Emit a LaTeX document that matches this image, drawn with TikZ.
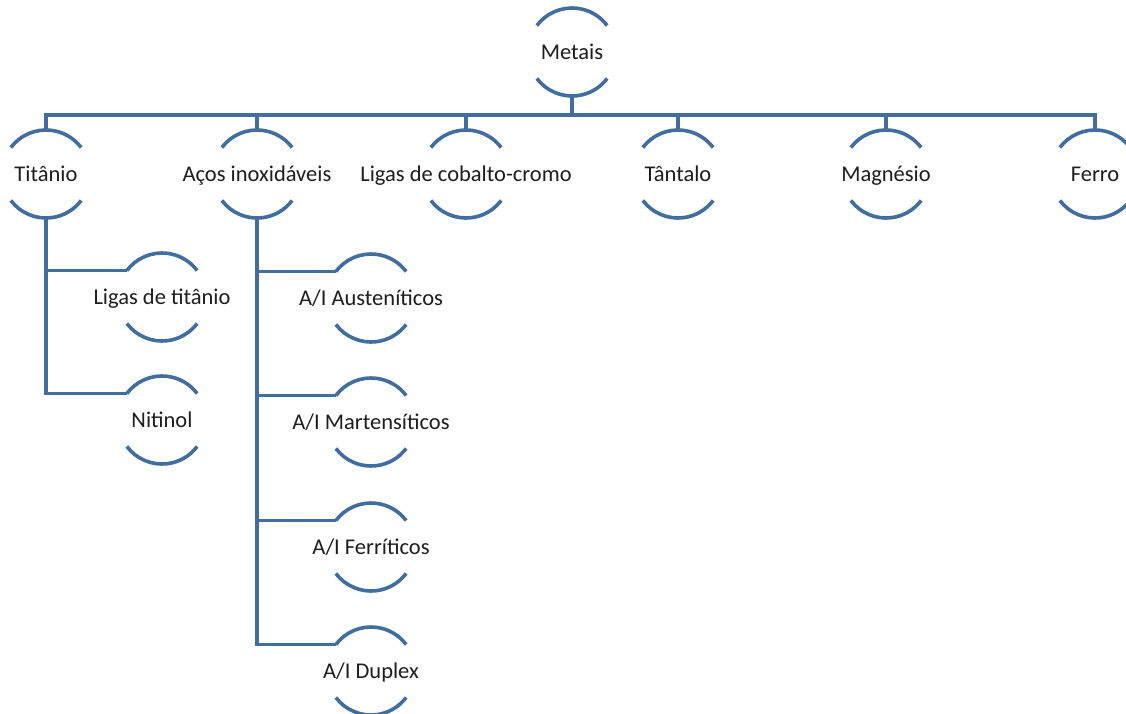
\documentclass[tikz,border=0pt]{standalone}
\usepackage{fontspec}
\setmainfont{Carlito}
\usetikzlibrary{calc}
\definecolor{arcblue}{RGB}{65,110,158}
\definecolor{txt}{RGB}{30,30,30}
\newcommand\lblfont{\fontsize{22.5}{27}\selectfont}
\newcommand\arcpair[1]{%
  \draw[arcst] ($(#1.center)+(143:44)$) arc[start angle=143,end angle=37,radius=44];
  \draw[arcst] ($(#1.center)+(-143:44)$) arc[start angle=-143,end angle=-37,radius=44];}
\tikzset{
  lbl/.style={inner sep=0pt, text height=14pt, text depth=0pt, font=\lblfont, text=txt},
  arcst/.style={draw=arcblue, line width=3.6pt},
  conn/.style={draw=arcblue, line width=3.4pt}
}
\begin{document}
\begin{tikzpicture}[x=1pt,y=1pt]
\useasboundingbox[fill=white] (0,0) rectangle (1126,-713);
\begin{scope}
\clip (0,0) rectangle (1126,-713);
% nodes
\node[lbl] (met) at (572,-52) {Metais};
\node[lbl] (tit) at (46,-174) {Titânio};
\node[lbl] (aco) at (257,-174) {Aços inoxidáveis};
\node[lbl] (cob) at (466,-174) {Ligas de cobalto-cromo};
\node[lbl] (tan) at (678,-174) {Tântalo};
\node[lbl] (mag) at (886,-174) {Magnésio};
\node[lbl] (fer) at (1095,-174) {Ferro};
\node[lbl] (lt) at (162,-297) {Ligas de titânio};
\node[lbl] (nit) at (162,-420) {Nitinol};
\node[lbl] (aus) at (371,-298) {A/I Austeníticos};
\node[lbl] (mar) at (371,-422) {A/I Martensíticos};
\node[lbl] (ferr) at (371,-547) {A/I Ferríticos};
\node[lbl] (dup) at (371,-671) {A/I Duplex};
% arcs
\foreach \n in {met,tit,aco,cob,tan,mag,fer,lt,nit,aus,mar,ferr,dup}{\arcpair{\n}}
% connectors
\draw[conn] ($(met.center)+(0,-44)$) -- ++(0,-19) coordinate (bus);
\foreach \n in {tit,aco,cob,tan,mag,fer}{
  \draw[conn] ($(\n.center)+(0,44)$) |- (bus);
}
\foreach \n in {lt,nit}{
  \draw[conn] ($(tit.center)+(0,-44)$) |- ($(\n.center)+(143:44)$);
}
\foreach \n in {aus,mar,ferr,dup}{
  \draw[conn] ($(aco.center)+(0,-44)$) |- ($(\n.center)+(143:44)$);
}
\end{scope}
\end{tikzpicture}
\end{document}
